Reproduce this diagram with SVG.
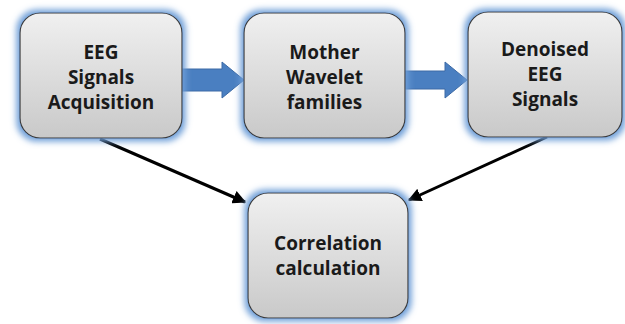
<svg xmlns="http://www.w3.org/2000/svg" width="625" height="324" viewBox="0 0 625 324">
<defs>
<linearGradient id="g" x1="0" y1="0" x2="0" y2="1">
<stop offset="0" stop-color="#f0f0f0"/>
<stop offset="1" stop-color="#c9c9c9"/>
</linearGradient>
<filter id="glow" x="-20%" y="-20%" width="140%" height="140%">
<feMorphology in="SourceAlpha" operator="dilate" radius="3" result="d"/>
<feGaussianBlur in="d" stdDeviation="3" result="b"/>
<feFlood flood-color="#6f9fd8"/>
<feComposite in2="b" operator="in" result="c"/>
<feMerge><feMergeNode in="c"/><feMergeNode in="SourceGraphic"/></feMerge>
</filter>
<marker id="ah" viewBox="0 0 10 10" refX="9" refY="5" markerWidth="4.5" markerHeight="4.5" orient="auto" markerUnits="strokeWidth">
<path d="M0,0 L10,5 L0,10 z" fill="#000"/>
</marker>
</defs>
<style>
.box{fill:url(#g);stroke:#3a3a3a;stroke-width:1.2;filter:url(#glow)}
.t{font-family:"Open Sans","DejaVu Sans",sans-serif;font-weight:bold;font-size:19px;fill:#1a1a1a;text-anchor:middle}
.blk{fill:#4a7fc1;stroke:#3c6aa6;stroke-width:1}
.ln{stroke:#000;stroke-width:3;fill:none;marker-end:url(#ah)}
</style>
<g id="connectors">
<path class="blk" d="M182,69 H222 V62 L244,80 L222,98 V91 H182 Z"/>
<path class="blk" d="M403,71 H445 V62 L467,80 L445,98 V89 H403 Z"/>
<line class="ln" x1="100" y1="139" x2="245" y2="202"/>
<line class="ln" x1="547" y1="137" x2="409" y2="200"/>
</g>
<g id="n1">
<rect class="box" x="20" y="13" width="162" height="125" rx="20"/>
<text class="t" x="101" y="59">EEG</text>
<text class="t" x="101" y="84">Signals</text>
<text class="t" x="101" y="109">Acquisition</text>
</g>
<g id="n2">
<rect class="box" x="244" y="13" width="161" height="125" rx="20"/>
<text class="t" x="324.5" y="59">Mother</text>
<text class="t" x="324.5" y="84">Wavelet</text>
<text class="t" x="324.5" y="109">families</text>
</g>
<g id="n3">
<rect class="box" x="468" y="12" width="154" height="125" rx="20"/>
<text class="t" x="545" y="56">Denoised</text>
<text class="t" x="545" y="81">EEG</text>
<text class="t" x="545" y="106">Signals</text>
</g>
<g id="n4">
<rect class="box" x="248" y="193" width="160" height="125" rx="20"/>
<text class="t" x="328" y="250">Correlation</text>
<text class="t" x="328" y="275">calculation</text>
</g>
</svg>
